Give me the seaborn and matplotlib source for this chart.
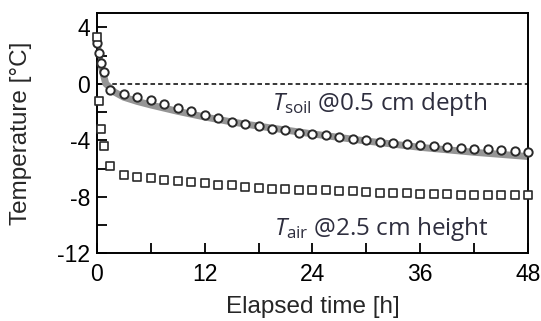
"""Soil and air temperature over elapsed time."""

import matplotlib.pyplot as plt
import pandas as pd
import seaborn as sns
from matplotlib.ticker import MultipleLocator

# measured soil temperature at 0.5 cm depth (circles)
soil_t = [0, 0.25, 0.5, 0.75, 1.5, 3, 4.5, 6, 7.5, 9, 10.5, 12, 13.5, 15, 16.5,
          18, 19.5, 21, 22.5, 24, 25.5, 27, 28.5, 30, 31.5, 33, 34.5, 36, 37.5,
          39, 40.5, 42, 43.5, 45, 46.5, 48]
soil_temp = [2.9, 2.2, 1.5, 0.8, -0.42, -0.75, -0.95, -1.18, -1.46, -1.69, -1.96,
             -2.22, -2.45, -2.71, -2.87, -2.99, -3.2, -3.3, -3.45, -3.55, -3.65,
             -3.8, -3.9, -4.0, -4.12, -4.2, -4.28, -4.35, -4.42, -4.5, -4.55,
             -4.6, -4.65, -4.7, -4.75, -4.8]

# air temperature at 2.5 cm height (squares)
air_t = [0, 0.25, 0.5, 0.75, 1.5, 3, 4.5, 6, 7.5, 9, 10.5, 12, 13.5, 15, 16.5,
         18, 19.5, 21, 22.5, 24, 25.5, 27, 28.5, 30, 31.5, 33, 34.5, 36, 37.5,
         39, 40.5, 42, 43.5, 45, 46.5, 48]
air_temp = [3.3, -1.2, -3.2, -4.4, -5.8, -6.45, -6.6, -6.7, -6.8, -6.85, -6.95,
            -7.05, -7.15, -7.2, -7.3, -7.35, -7.42, -7.45, -7.5, -7.55, -7.55,
            -7.6, -7.62, -7.65, -7.7, -7.72, -7.75, -7.77, -7.8, -7.82, -7.84,
            -7.85, -7.87, -7.88, -7.9, -7.9]

# model curve for soil temperature (thick gray line)
model_t = [0, 0.25, 0.5, 1, 2, 3, 4.5, 6, 9, 12, 15, 18, 24, 30, 36, 42, 48]
model_temp = [3.0, 2.0, 1.2, 0.0, -0.6, -0.95, -1.25, -1.5, -1.95, -2.35, -2.7,
              -3.0, -3.55, -4.05, -4.5, -4.85, -5.15]

soil = pd.DataFrame({"t": soil_t, "temp": soil_temp})
air = pd.DataFrame({"t": air_t, "temp": air_temp})
model = pd.DataFrame({"t": model_t, "temp": model_temp})

sns.set_theme(style="ticks")
plt.rcParams["font.family"] = ["Liberation Sans", "DejaVu Sans"]
plt.rcParams["axes.unicode_minus"] = False
plt.rcParams["mathtext.fontset"] = "custom"
plt.rcParams["mathtext.rm"] = "Open Sans"
plt.rcParams["mathtext.it"] = "Open Sans:italic"

fig = plt.figure(figsize=(5.41, 3.21), dpi=100)
ax = fig.add_axes([0.179, 0.211, 0.797, 0.748])

ax.axhline(0, color="black", lw=1.1, ls=(0, (3, 2)), zorder=1)
sns.lineplot(data=model, x="t", y="temp", ax=ax, color="#959595", lw=5,
             zorder=2, legend=False)
sns.scatterplot(data=soil, x="t", y="temp", ax=ax, marker="o", s=36,
                facecolor="white", edgecolor="#2a2a2a", linewidth=1.4,
                zorder=3, clip_on=False, legend=False)
sns.scatterplot(data=air, x="t", y="temp", ax=ax, marker="s", s=32,
                facecolor="white", edgecolor="#2a2a2a", linewidth=1.2,
                zorder=3, clip_on=False, legend=False)

ax.set_xlim(0, 48)
ax.set_ylim(-12, 5)
ax.xaxis.set_major_locator(MultipleLocator(12))
ax.xaxis.set_minor_locator(MultipleLocator(6))
ax.yaxis.set_major_locator(MultipleLocator(4))
ax.yaxis.set_minor_locator(MultipleLocator(2))
ax.tick_params(which="both", direction="in", length=7, width=1.3,
               labelsize=16.5, colors="black")
ax.tick_params(axis="x", pad=7)
ax.tick_params(axis="y", pad=5)
for s in ax.spines.values():
    s.set_linewidth(1.4)
    s.set_color("black")

ax.set_xlabel("Elapsed time [h]", fontsize=17.5, labelpad=7)
ax.set_ylabel("Temperature [°C]", fontsize=17.5, labelpad=18)

txt_color = "#2e2e3e"
ax.text(19.5, -1.4, r"$T_{\mathrm{soil}}$ @0.5 cm depth", fontsize=17.5,
        color=txt_color, va="center", family=["Open Sans", "DejaVu Sans"])
ax.text(19.7, -10.3, r"$T_{\mathrm{air}}$ @2.5 cm height", fontsize=17.5,
        color=txt_color, va="center", family=["Open Sans", "DejaVu Sans"])

fig.savefig("out.png", dpi=100)
plt.close(fig)
